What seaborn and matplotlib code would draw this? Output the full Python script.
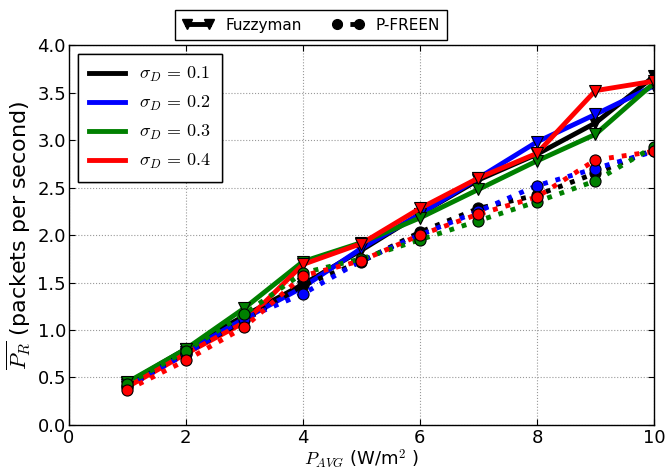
import numpy as np
import pandas as pd
import seaborn as sns
import matplotlib.pyplot as plt
from matplotlib.lines import Line2D

# data
p_avg = [1, 2, 3, 4, 5, 6, 7, 8, 9, 10]
sigmas = ["0.1", "0.2", "0.3", "0.4"]
colors = ["black", "blue", "green", "red"]

fuzzy_01 = [0.44, 0.80, 1.15, 1.48, 1.84, 2.22, 2.58, 2.85, 3.18, 3.67]
fuzzy_02 = [0.42, 0.77, 1.12, 1.45, 1.86, 2.22, 2.60, 2.98, 3.27, 3.57]
fuzzy_03 = [0.45, 0.80, 1.23, 1.72, 1.92, 2.18, 2.48, 2.78, 3.06, 3.60]
fuzzy_04 = [0.40, 0.75, 1.08, 1.69, 1.91, 2.28, 2.60, 2.86, 3.52, 3.62]

pfreen_01 = [0.41, 0.76, 1.10, 1.47, 1.72, 2.03, 2.28, 2.42, 2.65, 2.90]
pfreen_02 = [0.40, 0.75, 1.12, 1.38, 1.73, 2.00, 2.25, 2.52, 2.70, 2.88]
pfreen_03 = [0.43, 0.78, 1.17, 1.60, 1.75, 1.95, 2.15, 2.35, 2.57, 2.93]
pfreen_04 = [0.37, 0.68, 1.03, 1.57, 1.73, 2.00, 2.22, 2.40, 2.79, 2.88]

fuzzy = [fuzzy_01, fuzzy_02, fuzzy_03, fuzzy_04]
pfreen = [pfreen_01, pfreen_02, pfreen_03, pfreen_04]

plt.rcParams["mathtext.fontset"] = "cm"
plt.rcParams["font.family"] = "DejaVu Sans"
plt.rcParams["xtick.direction"] = "in"
plt.rcParams["ytick.direction"] = "in"
plt.rcParams["xtick.top"] = True
plt.rcParams["ytick.right"] = True

fig = plt.figure(figsize=(6.68, 4.72), dpi=100)
ax = fig.add_axes([0.103, 0.0996, 0.876, 0.805])

lw = 3.5
ms = 8
for vals, c in zip(fuzzy, colors):
    df = pd.DataFrame({"x": p_avg, "y": vals})
    sns.lineplot(data=df, x="x", y="y", ax=ax, color=c, lw=lw, marker="v",
                 markersize=ms, markeredgecolor="black", markeredgewidth=0.8)
for vals, c in zip(pfreen, colors):
    df = pd.DataFrame({"x": p_avg, "y": vals})
    sns.lineplot(data=df, x="x", y="y", ax=ax, color=c, lw=lw, ls=":", marker="o",
                 markersize=ms, markeredgecolor="black", markeredgewidth=0.8)

ax.set_xlim(0, 10)
ax.set_ylim(0, 4)
ax.set_xticks([0, 2, 4, 6, 8, 10])
ax.set_yticks(np.arange(0, 4.01, 0.5))
ax.set_yticklabels([f"{v:.1f}" for v in np.arange(0, 4.01, 0.5)])
ax.tick_params(labelsize=13, length=4)
ax.tick_params(axis="x", pad=3)
ax.tick_params(axis="y", pad=2)
ax.grid(True, linestyle=":", color="#999999", lw=0.8)
for s in ax.spines.values():
    s.set_linewidth(1.0)

ax.set_xlabel(r"$P_{AVG}$ (W/m$^2$ )", fontsize=13, labelpad=0)
ax.set_ylabel(r"$\overline{P_R}$ (packets per second)", fontsize=16, labelpad=3)

# inner legend: sigma values
sig_handles = [Line2D([], [], color=c, lw=lw) for c in colors]
sig_labels = [r"$\sigma_D\,=\,%s$" % s for s in sigmas]
leg1 = ax.legend(sig_handles, sig_labels, loc="upper left", fontsize=13,
                 fancybox=False, edgecolor="black", framealpha=1,
                 handlelength=2.0, borderaxespad=0.5, labelspacing=0.55,
                 borderpad=0.6)
leg1.get_frame().set_linewidth(1.0)
ax.add_artist(leg1)

# top legend: methods
meth_handles = [
    Line2D([], [], color="black", lw=lw, marker="v", markersize=7),
    Line2D([], [], color="black", lw=lw, ls=":", marker="o", markersize=7),
]
leg2 = fig.legend(meth_handles, ["Fuzzyman", "P-FREEN"], loc="upper center",
                  bbox_to_anchor=(0.466, 0.995), ncol=2, fontsize=11,
                  fancybox=False, edgecolor="black", framealpha=1,
                  numpoints=2, handlelength=2.0, columnspacing=2.0,
                  borderpad=0.5)
leg2.get_frame().set_linewidth(1.0)

fig.savefig("out.png", dpi=100)
